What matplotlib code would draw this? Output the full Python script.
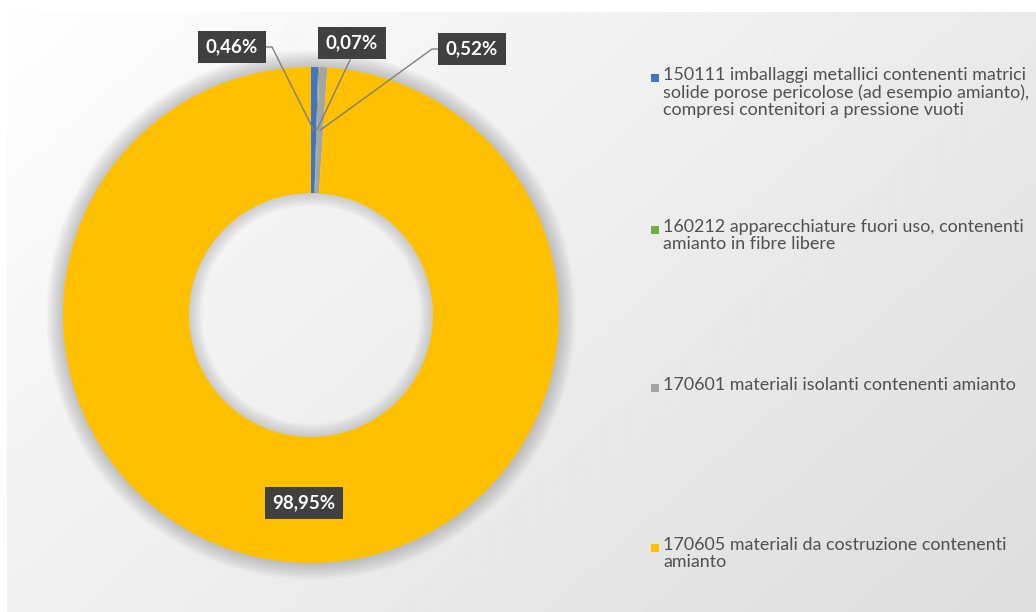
import matplotlib as mpl

mpl.use('Agg')

import matplotlib.pyplot as plt
import numpy as np
from matplotlib.patches import Rectangle, Wedge

plt.rcParams['font.family'] = ['Lato', 'DejaVu Sans']

# data
codes = ['150111', '160212', '170601', '170605']
descriptions = [
    'imballaggi metallici contenenti matrici\nsolide porose pericolose (ad esempio amianto),\ncompresi contenitori a pressione vuoti',
    'apparecchiature fuori uso, contenenti\namianto in fibre libere',
    'materiali isolanti contenenti amianto',
    'materiali da costruzione contenenti\namianto',
]
shares = [0.46, 0.07, 0.52, 98.95]
colors = ['#4472C4', '#70AD47', '#A5A5A5', '#FFC000']

W, H = 1036, 612


def px(x, y):
    # pixel position (origin top-left) -> data coords of the full-figure axes
    return x, H - y


fig = plt.figure(figsize=(W / 100, H / 100), dpi=100)
fig.patch.set_facecolor('white')

# soft grey gradient behind the chart area
bg = fig.add_axes([7 / W, 0, 1 - 7 / W, 1 - 12 / H])
gx, gy = np.meshgrid(np.linspace(0, 1, 400), np.linspace(0, 1, 240))
light = 0.995 - 0.13 * (0.6 * gx + 0.4 * gy)
bg.imshow(light, cmap='gray', vmin=0, vmax=1, aspect='auto', interpolation='bilinear')
bg.axis('off')

ax = fig.add_axes([0, 0, 1, 1])
ax.patch.set_visible(False)

cx, cy = px(311, 315)
R, r = 248, 122

# soft shadow around the ring (outside and inside the hole)
for k in range(1, 12):
    ax.add_patch(Wedge((cx, cy), R + k * 1.5, 0, 360, width=k * 1.5 + 1,
                       facecolor='#808080', alpha=0.045, lw=0, zorder=1))
    ax.add_patch(Wedge((cx, cy), r + 1, 0, 360, width=k * 1.2 + 1,
                       facecolor='#808080', alpha=0.03, lw=0, zorder=1))

wedges, _ = ax.pie(shares, colors=colors, radius=R, center=(cx, cy),
                   startangle=90, counterclock=False,
                   wedgeprops=dict(width=R - r, linewidth=0, zorder=2))

ax.set_xlim(0, W)
ax.set_ylim(0, H)
ax.set_aspect('equal')
ax.axis('off')

# data labels
labels = [f'{v:.2f}%'.replace('.', ',') for v in shares]
label_pos = [px(232, 47), px(352, 43), px(472, 49), px(304, 503)]
box = dict(boxstyle='square,pad=0.4', facecolor='#404040', edgecolor='none')
for lab, (lx, ly) in zip(labels, label_pos):
    ax.text(lx, ly, lab, color='white', fontsize=13.5, fontweight='bold',
            ha='center', va='center', bbox=box, zorder=5)

# leader lines for the thin slices
rm = (R + r) / 2
anchors = []
for w in wedges[:3]:
    t = np.deg2rad((w.theta1 + w.theta2) / 2)
    anchors.append((cx + rm * np.cos(t), cy + rm * np.sin(t)))

starts = [
    [px(264, 47), px(272, 47)],
    [px(350, 60)],
    [px(438, 49), px(432, 49)],
]
for pts, (axp, ayp) in zip(starts, anchors):
    xs = [p[0] for p in pts] + [axp]
    ys = [p[1] for p in pts] + [ayp]
    ax.plot(xs, ys, color='#7f7f7f', lw=1.0, zorder=4)

# legend
entry_y = [78, 230, 388, 548]
for code, desc, col, ey in zip(codes, descriptions, colors, entry_y):
    mx, my = px(651, ey + 4)
    ax.add_patch(Rectangle((mx, my), 8, 8, facecolor=col, lw=0, zorder=5))
    tx, ty = px(663, ey - 11)
    ax.text(tx, ty, code + ' ' + desc, fontsize=12.9, color='#505050',
            ha='left', va='top', linespacing=1.08, zorder=5)

fig.savefig('out.png', dpi=100)
